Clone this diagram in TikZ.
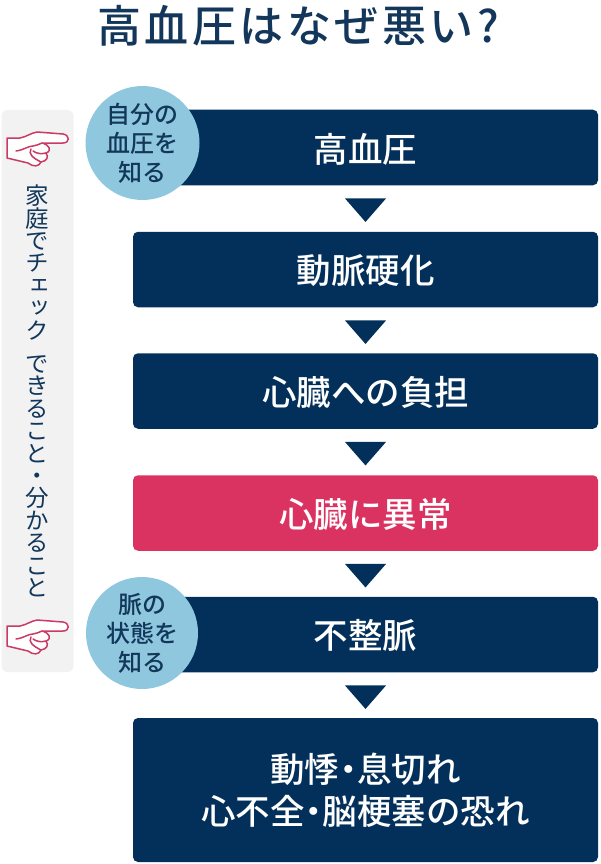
\documentclass[tikz,border=0pt]{standalone}
\usepackage{fontspec}
\setmainfont{Noto Sans CJK JP Medium}
\newfontfamily\vertfont[RawFeature=+vert]{Noto Sans CJK JP}
\usetikzlibrary{calc}
\definecolor{navy}{HTML}{03305A}
\definecolor{inknavy}{HTML}{12375A}
\definecolor{rose}{HTML}{DB3361}
\definecolor{handred}{HTML}{C93A64}
\definecolor{skyblue}{HTML}{8FC8DE}
\definecolor{panelgray}{HTML}{F2F2F3}
\newcommand{\midot}{\kern-.24em・\kern-.24em}
\tikzset{
	stepbox/.style={fill=navy,rounded corners=5pt,minimum width=465pt,minimum height=75.5pt,inner sep=0pt,
		text=white,align=center,font=\fontsize{34.5}{42}\selectfont,execute at begin node={\rule{0pt}{32pt}}},
	alertbox/.style={stepbox,fill=rose},
	knowcircle/.style={circle,fill=skyblue,minimum size=114pt,inner sep=0pt,text=inknavy,align=center,
		font=\fontsize{24}{29}\selectfont},
	hand/.pic={
		\draw[handred,line width=1.5pt,fill=white,line join=round]
			(7,138) -- (20,138) .. controls (26,137) and (31,133) .. (37,132)
			-- (63,134) .. controls (70,135) and (70,143) .. (63,143) -- (42,143)
			.. controls (50,145) and (52,151) .. (46,153)
			.. controls (49,157) and (47,161) .. (41,162)
			.. controls (39,167) and (33,167) .. (28,163) -- (7,158) -- cycle;
		\draw[handred,line width=1.5pt,line cap=round]
			(16,151) .. controls (24,150) and (28,146) .. (33,146) .. controls (36,146) and (39,144) .. (42,143)
			(31,149) .. controls (28,154) and (33,158) .. (41,162)
			(33,151) .. controls (37,154) and (42,154) .. (46,153);
	}
}
\begin{document}
\begin{tikzpicture}[x=1pt,y=-1pt]
	\useasboundingbox (0,0) rectangle (600,864);
	\node[text=inknavy,font=\fontsize{44}{44}\selectfont\addfontfeature{LetterSpace=8}] (title) at (298,26) {高血圧はなぜ悪い?};
	% side panel
	\node[fill=panelgray,rounded corners=6pt,minimum width=72pt,minimum height=562pt,inner sep=0pt] (panel) at (37.5,391) {};
	\pic at (0,0) {hand};
	\pic at (0,488) {hand};
	\node[text=inknavy,align=center,font=\fontsize{23.5}{22.4}\vertfont] (check) at (37,391) {家\\庭\\で\\チ\\ェ\\ッ\\ク\\[11pt]で\\き\\る\\こ\\と\\・\\分\\か\\る\\こ\\と};
	% steps
	\node[stepbox] (hbp) at (365.5,147.5) {高血圧};
	\node[stepbox] (sclerosis) at (365.5,269.5) {動脈硬化};
	\node[stepbox] (burden) at (365.5,391) {心臓への負担};
	\node[alertbox] (disorder) at (365.5,513) {心臓に異常};
	\node[stepbox] (arrhythmia) at (365.5,634.5) {不整脈};
	\node[stepbox,minimum height=144pt] (risk) at (365.5,790) {動悸\midot 息切れ\\心不全\midot 脳梗塞の恐れ};
	\foreach \step in {hbp,sclerosis,burden,disorder,arrhythmia}
		\fill[navy] ($(\step.south)+(-20.5,13)$) -- ($(\step.south)+(20.5,13)$) -- ($(\step.south)+(0,36.5)$) -- cycle;
	% circles
	\node[knowcircle] (pressure) at (142.5,143) {自分の\\血圧を\\知る};
	\node[knowcircle,minimum size=112pt] (pulse) at (142,633) {脈の\\状態を\\知る};
\end{tikzpicture}
\end{document}
